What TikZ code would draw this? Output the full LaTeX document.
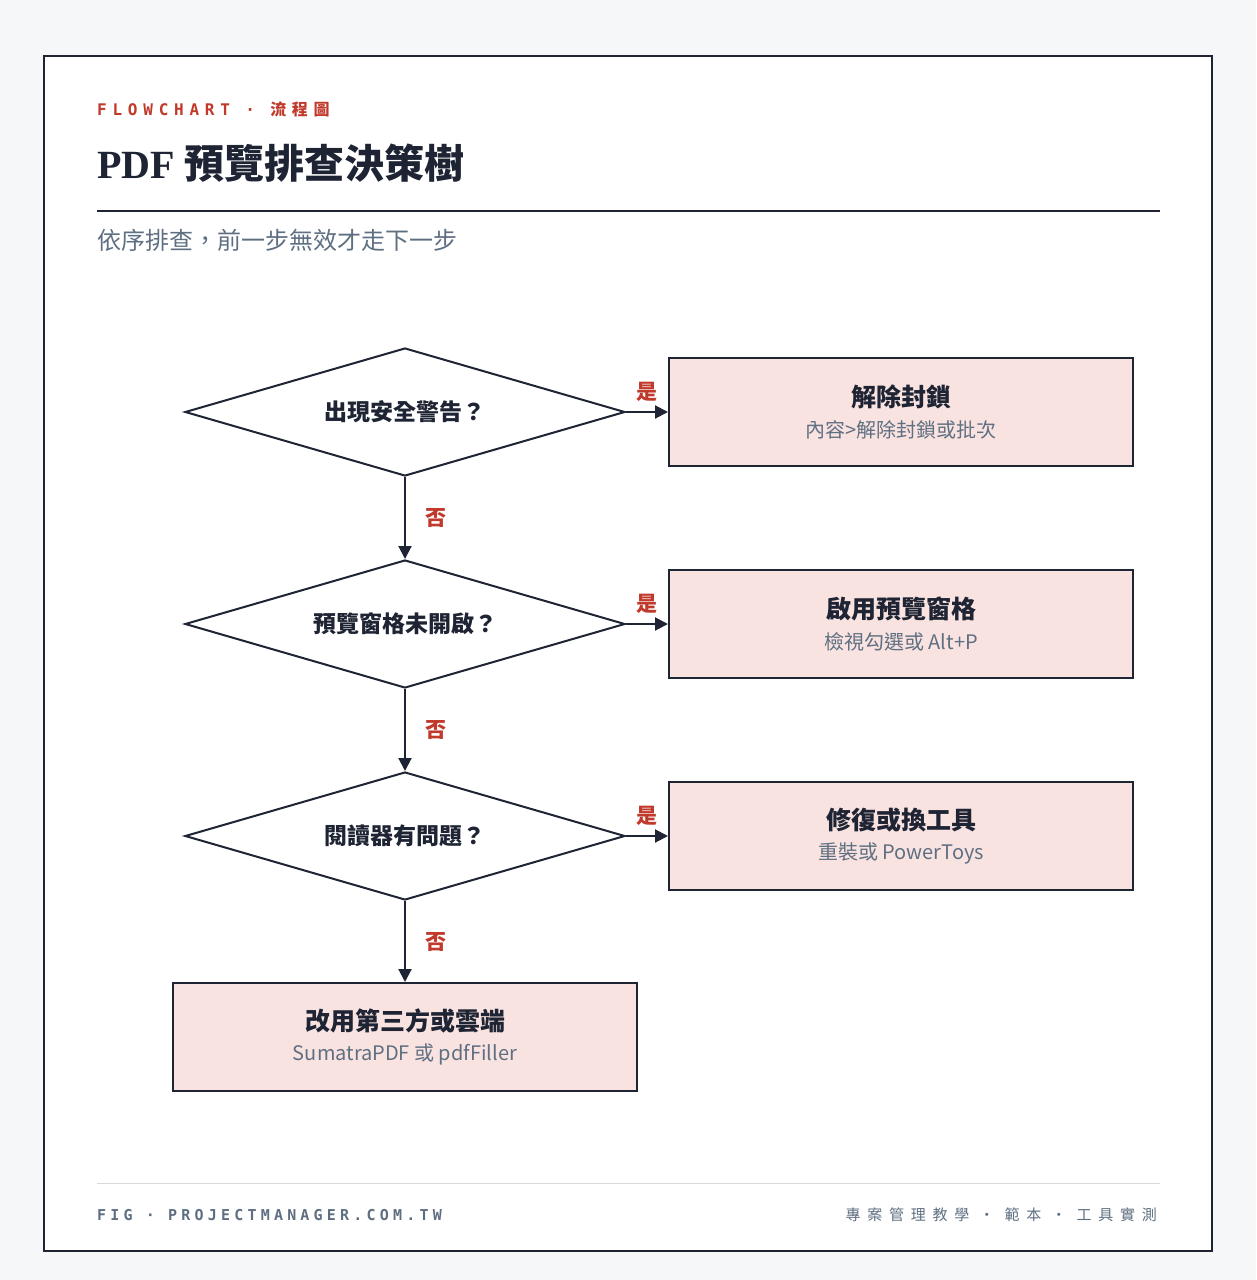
\documentclass[tikz,border=0pt]{standalone}
\usepackage{fontspec}
\setmainfont{Liberation Serif}
\newfontfamily\cjk{Noto Sans CJK TC}
\newfontfamily\cjkspaced[LetterSpace=35]{Noto Sans CJK TC}
\newfontfamily\cjkwide[LetterSpace=45]{Noto Sans CJK TC}
\newfontfamily\monospaced[LetterSpace=36]{DejaVu Sans Mono}
\newfontfamily\monofooter[LetterSpace=28]{DejaVu Sans Mono}
\usetikzlibrary{shapes.geometric, arrows.meta, positioning}
\definecolor{ink}{HTML}{1E2433}
\definecolor{accent}{HTML}{C0392B}
\definecolor{muted}{HTML}{5F6F82}
\definecolor{boxfill}{HTML}{F9E3E1}
\definecolor{paper}{HTML}{F6F7F9}
\tikzset{
  decision/.style={diamond, aspect=3.4375, draw=ink, line width=2pt, fill=white, minimum width=440pt, minimum height=128pt, inner sep=0pt, font=\cjk\bfseries\fontsize{23}{26}\selectfont, text=ink},
  action/.style={rectangle, draw=ink, line width=2pt, fill=boxfill, minimum width=464pt, minimum height=108pt, align=center, text=ink},
  arrow/.style={line width=2pt, draw=ink, -{Triangle[length=13pt,width=13pt]}},
  yes/.style={font=\cjk\bfseries\fontsize{21}{22}\selectfont, text=accent},
}
\newcommand{\acttext}[2]{{\cjk\bfseries\fontsize{25}{28}\selectfont #1}\\[10pt]{\cjk\fontsize{20}{22}\selectfont\color{muted}#2}}
\begin{document}
\begin{tikzpicture}[x=1pt,y=-1pt]
\useasboundingbox (0,0) rectangle (1256,1280);
\fill[paper] (0,0) rectangle (1256,1280);
\draw[ink, line width=2pt, fill=white] (44,56) rectangle (1212,1251);

% header
\node[anchor=west, text=accent, inner sep=0] (kicker) at (97,109) {\monospaced\bfseries\fontsize{16}{18}\selectfont FLOWCHART\ ·\ {\cjkspaced 流程圖}};
\node[anchor=west, text=ink, inner sep=0] (title) at (97,163) {\bfseries\fontsize{40}{44}\selectfont PDF {\cjk 預覽排查決策樹}};
\draw[ink, line width=1.5pt] (97,211) -- (1160,211);
\node[anchor=west, text=muted, inner sep=0] (subtitle) at (97,240) {\cjk\fontsize{24}{26}\selectfont 依序排查，前一步無效才走下一步};

% decisions
\node[decision] (q1) at (405,412) {出現安全警告？};
\node[decision] (q2) at (405,624) {預覽窗格未開啟？};
\node[decision] (q3) at (405,836) {閱讀器有問題？};

% actions
\node[action] (a1) at (901,412) {\acttext{解除封鎖}{內容>解除封鎖或批次}};
\node[action] (a2) at (901,624) {\acttext{啟用預覽窗格}{檢視勾選或 Alt+P}};
\node[action] (a3) at (901,836) {\acttext{修復或換工具}{重裝或 PowerToys}};
\node[action] (a4) at (405,1037) {\acttext{改用第三方或雲端}{SumatraPDF 或 pdfFiller}};

% arrows
\draw[arrow] (q1.east) -- node[yes, above=6pt] {是} (a1.west);
\draw[arrow] (q2.east) -- node[yes, above=6pt] {是} (a2.west);
\draw[arrow] (q3.east) -- node[yes, above=6pt] {是} (a3.west);
\draw[arrow] (q1.south) -- node[yes, right=16pt] {否} (q2.north);
\draw[arrow] (q2.south) -- node[yes, right=16pt] {否} (q3.north);
\draw[arrow] (q3.south) -- node[yes, right=16pt] {否} (a4.north);

% footer
\draw[black!15, line width=1pt] (97,1183) -- (1160,1183);
\node[anchor=west, text=muted, inner sep=0] (figref) at (97,1215) {\monofooter\bfseries\fontsize{15}{18}\selectfont FIG\ ·\ PROJECTMANAGER.COM.TW};
\node[anchor=east, text=muted, inner sep=0] (tags) at (1157,1215) {\cjkwide\fontsize{15}{18}\selectfont 專案管理教學\ ·\ 範本\ ·\ 工具實測};
\end{tikzpicture}
\end{document}
